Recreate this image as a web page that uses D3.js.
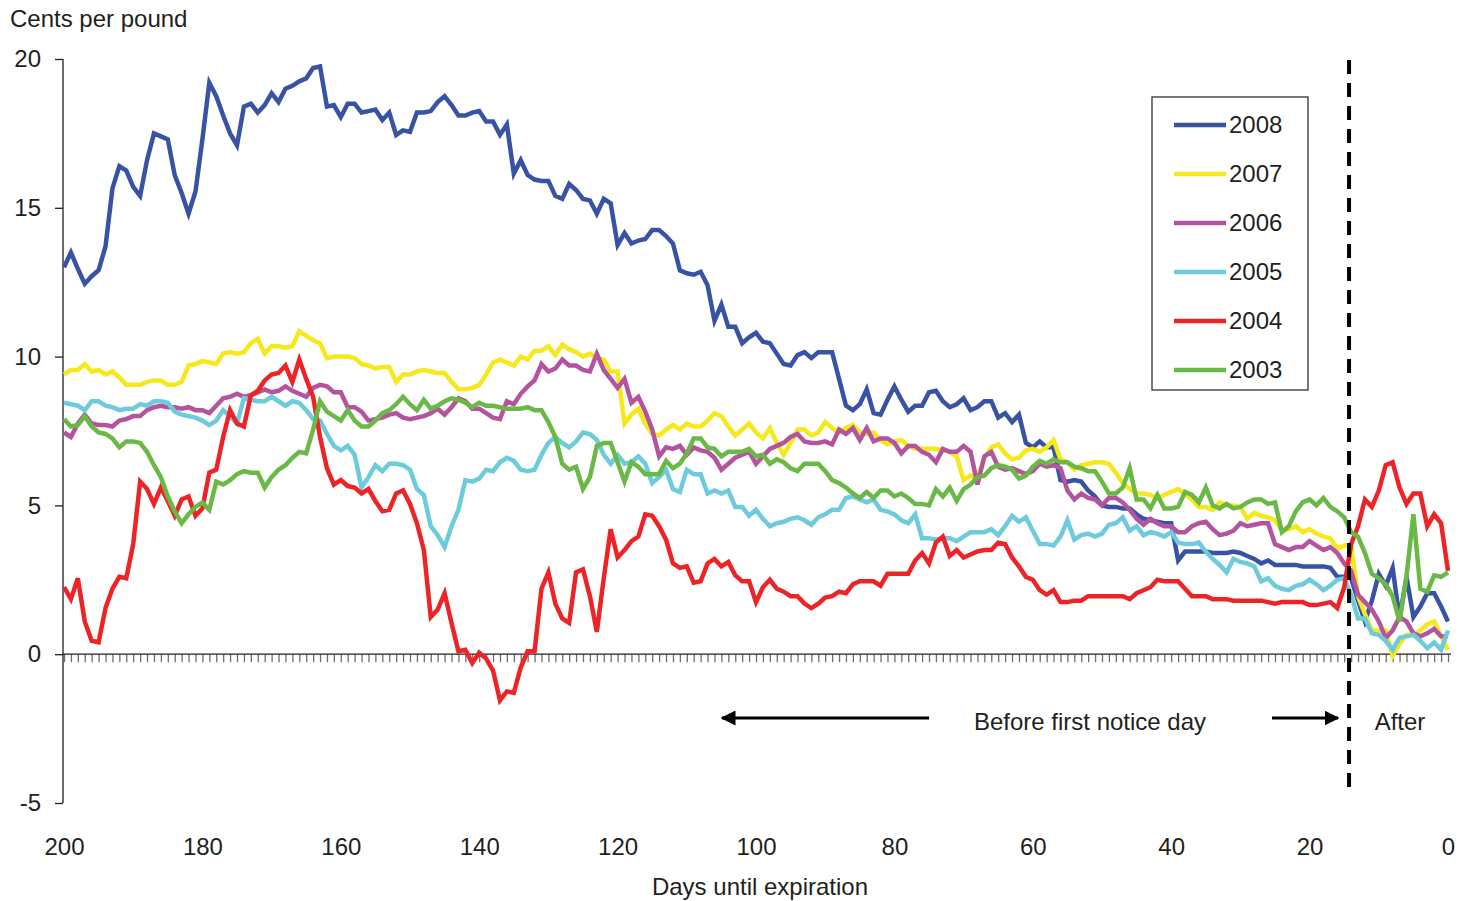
<!DOCTYPE html>
<html>
<head>
<meta charset="utf-8">
<script src="https://cdn.jsdelivr.net/npm/d3@7"></script>
<style>
	body { margin: 0; background: #fff; }
	text { font-family: "Liberation Sans", Arial, Helvetica, sans-serif; fill: #231f20; }
</style>
</head>
<body>
<div id="chart-area"></div>
<script>
/*
*    spread chart - days until expiration
*/

// days run from 200 down to 0
var days = d3.range(200, -1, -1);

var s2008 = [13.0,13.5,12.95,12.45,12.7,12.9,13.7,15.65,16.4,16.25,15.7,15.4,16.6,17.5,17.4,17.3,16.1,15.5,14.8,15.55,
	17.3,19.2,18.75,18.1,17.5,17.1,18.4,18.5,18.2,18.45,18.85,18.55,19.0,19.1,19.25,19.35,19.7,19.75,18.4,18.45,
	18.05,18.5,18.5,18.2,18.25,18.3,17.95,18.2,17.45,17.6,17.55,18.2,18.2,18.25,18.55,18.75,18.45,18.1,18.1,18.2,
	18.25,17.9,17.9,17.45,17.8,16.15,16.6,16.1,15.95,15.9,15.9,15.4,15.3,15.8,15.6,15.3,15.25,14.8,15.3,15.15,
	13.75,14.15,13.8,13.9,13.95,14.25,14.25,14.05,13.8,12.9,12.8,12.75,12.85,12.4,11.2,11.75,11.0,11.0,10.45,10.65,
	10.8,10.5,10.45,10.1,9.75,9.7,10.05,10.15,9.95,10.15,10.15,10.15,9.25,8.35,8.2,8.4,8.9,8.1,8.05,8.55,
	9.0,8.55,8.15,8.35,8.35,8.8,8.85,8.5,8.3,8.4,8.6,8.2,8.3,8.5,8.5,7.95,8.1,7.8,8.05,7.1,
	6.95,7.15,6.95,6.95,5.85,5.8,5.85,5.8,5.5,5.3,5.0,4.95,4.95,4.9,4.9,4.7,4.55,4.5,4.45,4.4,
	4.4,3.15,3.45,3.45,3.45,3.45,3.4,3.4,3.4,3.45,3.4,3.3,3.2,3.05,3.15,3.0,3.0,3.0,3.0,2.95,
	2.95,2.95,2.95,2.9,2.6,2.6,2.55,1.8,1.1,1.8,2.7,2.3,2.9,1.2,2.6,1.25,1.6,2.05,2.05,1.6,
	1.1];

var s2007 = [9.4,9.55,9.55,9.75,9.5,9.55,9.4,9.5,9.3,9.05,9.05,9.05,9.15,9.2,9.2,9.05,9.05,9.15,9.7,9.75,
	9.85,9.8,9.75,10.1,10.15,10.1,10.15,10.45,10.6,10.1,10.35,10.35,10.3,10.35,10.85,10.7,10.55,10.45,9.95,10.0,
	10.0,10.0,9.95,9.75,9.7,9.6,9.65,9.65,9.15,9.4,9.4,9.5,9.55,9.5,9.45,9.45,9.15,8.9,8.9,8.95,
	9.05,9.4,9.8,9.9,9.8,9.7,10.0,9.9,10.2,10.2,10.35,10.05,10.4,10.25,10.15,10.0,10.1,9.95,9.9,9.5,
	9.5,7.75,8.05,8.25,7.75,7.4,7.35,7.55,7.7,7.55,7.75,7.65,7.65,7.85,8.1,8.0,7.65,7.35,7.55,7.75,
	7.45,7.25,7.6,7.1,6.7,7.1,7.55,7.55,7.35,7.45,7.8,7.6,7.45,7.6,7.7,7.45,7.4,7.45,7.2,7.05,
	7.15,7.2,7.0,6.9,6.9,6.9,6.9,6.85,6.8,6.65,5.85,6.0,5.9,6.6,6.95,7.05,6.75,6.55,6.6,6.85,
	6.9,6.8,6.95,7.2,6.55,6.45,6.2,6.35,6.4,6.45,6.45,6.4,6.1,5.75,5.55,5.4,5.4,5.35,5.25,5.35,
	5.45,5.55,5.4,5.2,4.95,4.95,4.85,5.1,5.0,5.0,4.95,4.55,4.75,4.65,4.6,4.5,4.15,4.2,4.3,4.1,
	4.2,4.05,3.95,3.9,3.55,3.65,3.65,1.95,1.35,0.8,0.8,0.8,-0.05,0.35,0.65,0.65,0.8,1.0,1.1,0.6,
	0.15];

var s2006 = [7.45,7.3,7.75,8.05,7.75,7.7,7.7,7.65,7.85,7.9,8.0,8.0,8.2,8.3,8.35,8.3,8.3,8.25,8.3,8.2,
	8.2,8.1,8.35,8.6,8.65,8.75,8.65,8.7,8.8,8.9,8.8,8.85,9.0,8.85,8.75,8.65,8.95,9.05,9.0,8.8,
	8.8,8.3,8.3,8.15,7.85,7.9,7.95,8.05,8.1,7.95,7.9,7.95,8.0,8.1,8.25,8.05,8.3,8.6,8.5,8.25,
	8.25,8.1,7.95,7.9,8.5,8.4,8.75,9.0,9.2,9.75,9.5,9.6,9.9,9.7,9.7,9.55,9.5,10.1,9.55,9.25,
	8.95,9.25,8.45,8.65,8.15,7.55,6.65,6.95,6.9,7.0,6.7,6.95,6.85,6.8,6.6,6.2,6.4,6.6,6.7,6.8,
	6.4,6.65,6.9,7.0,7.1,7.3,7.4,7.15,7.1,7.1,7.15,7.05,7.55,7.4,7.6,7.2,7.6,7.15,7.25,7.25,
	7.1,6.75,7.0,7.0,6.8,6.7,6.45,6.9,6.8,6.8,7.0,6.8,5.7,6.65,6.8,6.3,6.2,6.25,6.15,6.05,
	6.15,6.4,6.3,6.35,6.25,5.5,5.2,5.4,5.25,5.2,5.0,5.25,5.25,5.1,4.85,4.55,4.35,4.55,4.4,4.3,
	4.3,4.1,4.1,4.3,4.4,4.45,4.2,4.0,4.05,4.15,4.4,4.3,4.35,4.4,4.4,3.7,3.6,3.5,3.6,3.6,
	3.8,3.65,3.5,3.6,3.4,3.05,2.8,2.0,1.75,1.5,1.1,0.55,0.8,1.25,1.1,0.7,0.6,0.7,0.85,0.6,
	0.6];

var s2005 = [8.45,8.4,8.35,8.2,8.5,8.5,8.35,8.3,8.2,8.25,8.25,8.4,8.35,8.5,8.5,8.45,8.15,8.05,8.0,7.95,
	7.85,7.7,7.85,8.2,8.0,7.75,8.6,8.55,8.5,8.5,8.65,8.5,8.35,8.5,8.45,8.2,7.9,7.85,7.4,7.0,
	6.85,7.0,6.7,5.6,5.95,6.35,6.15,6.4,6.4,6.35,6.2,5.55,5.35,4.3,4.0,3.6,4.3,4.85,5.85,5.8,
	5.9,6.2,6.15,6.45,6.6,6.5,6.2,6.15,6.2,6.7,7.1,7.3,7.1,6.95,7.15,7.45,7.4,7.2,6.7,6.4,
	6.7,6.4,6.45,6.65,6.4,5.75,5.95,6.2,5.55,5.45,6.2,6.05,6.05,5.4,5.5,5.4,5.5,4.95,4.95,4.65,
	4.85,4.55,4.3,4.4,4.45,4.55,4.6,4.5,4.35,4.6,4.7,4.85,4.85,5.25,5.3,5.2,5.1,5.2,4.85,4.8,
	4.7,4.5,4.4,4.7,3.9,3.9,3.85,3.9,3.9,3.8,3.95,4.1,4.1,4.1,4.2,4.0,4.3,4.65,4.45,4.6,
	4.15,3.7,3.7,3.65,3.95,4.5,3.85,4.0,4.05,3.95,4.05,4.35,4.4,4.6,4.15,4.3,4.0,4.1,4.05,3.95,
	4.1,3.75,3.7,3.7,3.75,3.45,3.2,3.0,2.75,3.2,3.1,3.05,2.95,2.45,2.55,2.3,2.2,2.15,2.3,2.35,
	2.5,2.35,2.15,2.3,2.5,2.55,2.0,1.2,1.2,0.7,0.65,0.45,0.15,0.55,0.6,0.65,0.45,0.2,0.4,0.15,
	0.8];

var s2004 = [2.25,1.85,2.55,1.1,0.45,0.4,1.55,2.2,2.6,2.55,3.7,5.8,5.55,5.05,5.6,5.15,4.65,5.2,5.3,4.65,
	4.9,6.1,6.2,7.3,8.2,7.75,7.65,8.7,8.85,9.2,9.4,9.45,9.7,9.15,9.9,9.25,8.65,7.3,6.25,5.7,
	5.85,5.65,5.6,5.4,5.55,5.15,4.8,4.85,5.4,5.5,5.05,4.4,3.5,1.25,1.5,2.05,1.05,0.1,0.15,-0.3,
	0.05,-0.15,-0.55,-1.55,-1.25,-1.3,-0.45,0.1,0.1,2.2,2.75,1.7,1.2,1.05,2.75,2.85,1.95,0.75,2.55,4.2,
	3.25,3.5,3.8,3.95,4.7,4.65,4.3,3.85,3.05,2.9,2.95,2.4,2.45,3.05,3.2,2.95,3.1,2.65,2.45,2.45,
	1.75,2.25,2.5,2.2,2.1,1.95,1.95,1.7,1.55,1.7,1.9,1.95,2.1,2.05,2.35,2.45,2.45,2.45,2.3,2.7,
	2.7,2.7,2.7,3.15,3.4,3.05,3.75,3.95,3.3,3.5,3.25,3.35,3.45,3.5,3.5,3.75,3.7,3.25,2.95,2.6,
	2.5,2.15,2.0,2.15,1.75,1.75,1.8,1.8,1.95,1.95,1.95,1.95,1.95,1.95,1.85,2.05,2.15,2.25,2.5,2.45,
	2.45,2.45,2.2,1.95,1.95,1.95,1.85,1.85,1.85,1.8,1.8,1.8,1.8,1.8,1.75,1.7,1.75,1.75,1.75,1.75,
	1.65,1.65,1.7,1.75,1.55,2.25,3.7,4.3,5.2,4.95,5.5,6.35,6.45,5.6,5.05,5.4,5.4,4.3,4.7,4.4,
	2.8];

var s2003 = [7.9,7.65,7.7,8.0,7.65,7.45,7.4,7.25,6.95,7.15,7.15,7.1,6.8,6.35,5.95,5.3,4.8,4.4,4.7,4.95,
	5.1,4.85,5.8,5.7,5.85,6.05,6.15,6.1,6.1,5.6,5.95,6.2,6.35,6.6,6.8,6.75,7.55,8.5,8.15,8.0,
	7.85,8.2,7.85,7.65,7.65,7.85,8.1,8.2,8.4,8.65,8.4,8.2,8.55,8.25,8.35,8.5,8.6,8.55,8.45,8.3,
	8.45,8.35,8.35,8.3,8.25,8.25,8.25,8.3,8.2,8.2,7.8,7.3,6.4,6.2,6.3,5.55,5.95,7.0,7.1,7.1,
	6.45,5.8,6.45,6.3,6.05,6.05,6.05,6.5,6.25,6.4,6.75,7.25,7.25,6.95,6.9,6.65,6.8,6.8,6.8,6.9,
	6.65,6.7,6.4,6.55,6.45,6.25,6.15,6.4,6.4,6.4,6.15,5.85,5.75,5.6,5.4,5.25,5.45,5.25,5.5,5.5,
	5.3,5.4,5.25,5.05,5.05,5.0,5.55,5.3,5.6,5.15,5.55,5.7,5.95,6.0,6.25,6.35,6.3,6.2,5.9,6.0,
	6.3,6.5,6.4,6.55,6.45,6.45,6.3,6.25,6.15,6.15,5.8,5.4,5.4,5.6,6.25,5.2,5.2,4.9,5.35,4.9,
	4.9,4.95,5.45,5.35,5.1,5.6,5.0,4.9,5.05,4.9,4.95,5.1,5.2,5.2,5.05,5.1,4.1,4.3,4.8,5.1,
	5.2,5.0,5.25,4.95,4.8,4.6,4.1,3.95,3.4,2.7,2.55,2.35,1.95,1.1,2.6,4.7,2.2,2.1,2.65,2.6,
	2.75];

var years = ["2008", "2007", "2006", "2005", "2004", "2003"];
var seriesValues = [s2008, s2007, s2006, s2005, s2004, s2003];
var yearColors = ["#3953a4", "#f6e81a", "#b4549f", "#6dcbdc", "#ed2427", "#6ab946"];

var xTicks = [200, 180, 160, 140, 120, 100, 80, 60, 40, 20, 0];
var yTicks = [20, 15, 10, 5, 0, -5];
var firstNoticeDay = 14.3;

var svgWidth = 1467, svgHeight = 901;
var fontSize = "24px";

var svg = d3.select("#chart-area")
	.append("svg")
		.attr("width", svgWidth)
		.attr("height", svgHeight);

//Scales
var xScale = d3.scaleLinear()
		.domain([200, 0])
		.range([64, 1448]);

var yScale = d3.scaleLinear()
		.domain([-5, 20])
		.range([803, 59]);

//y axis
var yAxisCall = d3.axisLeft(yScale)
		.tickValues(yTicks)
		.tickSize(8)
		.tickPadding(14)
		.tickFormat(function(d){ return d < 0 ? "-" + Math.abs(d) : d; });

var yAxis = svg.append("g")
	.attr("transform", "translate(63,0)")
	.call(yAxisCall);
yAxis.select(".domain").remove();
yAxis.selectAll("line").attr("stroke", "#231f20").attr("stroke-width", 1.3);
yAxis.selectAll("text")
	.attr("font-size", fontSize)
	.attr("font-family", "Liberation Sans, Arial, sans-serif")
	.attr("fill", "#231f20");

svg.append("line")
	.attr("x1", 63).attr("x2", 63)
	.attr("y1", yScale(20)).attr("y2", yScale(-5))
	.attr("stroke", "#231f20")
	.attr("stroke-width", 1.3);

//x axis at zero with one tick per day
var dayAxisCall = d3.axisBottom(xScale)
		.tickValues(days)
		.tickSize(8)
		.tickFormat("");

var dayAxis = svg.append("g")
	.attr("transform", "translate(0," + yScale(0) + ")")
	.call(dayAxisCall);
dayAxis.select(".domain").remove();
dayAxis.selectAll("line").attr("stroke", "#6d6e71").attr("stroke-width", 1.3);

svg.append("line")
	.attr("x1", 63).attr("x2", xScale(0) + 3)
	.attr("y1", yScale(0)).attr("y2", yScale(0))
	.attr("stroke", "#231f20")
	.attr("stroke-width", 1.3);

//day labels along the bottom
var xLabelAxis = d3.axisBottom(xScale)
		.tickValues(xTicks)
		.tickSize(0)
		.tickPadding(35)
		.tickFormat(d3.format("d"));

var xLabels = svg.append("g")
	.attr("transform", "translate(0," + yScale(-5) + ")")
	.call(xLabelAxis);
xLabels.select(".domain").remove();
xLabels.selectAll("text")
	.attr("font-size", fontSize)
	.attr("font-family", "Liberation Sans, Arial, sans-serif")
	.attr("fill", "#231f20");

//Labels
svg.append("text")
	.attr("x", 10)
	.attr("y", 27)
	.attr("font-size", fontSize)
	.text("Cents per pound");

svg.append("text")
	.attr("x", 760)
	.attr("y", 895)
	.attr("font-size", fontSize)
	.attr("text-anchor", "middle")
	.text("Days until expiration");

//lines
var line = d3.line()
	.x(function(d){ return xScale(d.day); })
	.y(function(d){ return yScale(d.value); });

years.forEach(function(year, i){
	var pts = days.map(function(day, j){
		return {day: day, value: seriesValues[i][j]};
	});
	svg.append("path")
		.datum(pts)
		.attr("fill", "none")
		.attr("stroke", yearColors[i])
		.attr("stroke-width", 4.5)
		.attr("stroke-linejoin", "miter")
		.attr("d", line);
});

//first notice day marker
svg.append("line")
	.attr("x1", xScale(firstNoticeDay)).attr("x2", xScale(firstNoticeDay))
	.attr("y1", 60).attr("y2", 793)
	.attr("stroke", "#000")
	.attr("stroke-width", 4)
	.attr("stroke-dasharray", "14,9");

//arrows
svg.append("defs").append("marker")
	.attr("id", "head")
	.attr("viewBox", "0 0 10 10")
	.attr("refX", 9).attr("refY", 5)
	.attr("markerWidth", 5).attr("markerHeight", 5)
	.attr("orient", "auto")
	.append("path")
		.attr("d", "M0,0 L10,5 L0,10 Z")
		.attr("fill", "#000");

svg.append("line")
	.attr("x1", 929).attr("x2", 722)
	.attr("y1", 718).attr("y2", 718)
	.attr("stroke", "#000").attr("stroke-width", 3)
	.attr("marker-end", "url(#head)");

svg.append("line")
	.attr("x1", 1272).attr("x2", 1338)
	.attr("y1", 718).attr("y2", 718)
	.attr("stroke", "#000").attr("stroke-width", 3)
	.attr("marker-end", "url(#head)");

svg.append("text")
	.attr("x", 1090).attr("y", 730)
	.attr("font-size", fontSize)
	.attr("text-anchor", "middle")
	.text("Before first notice day");

svg.append("text")
	.attr("x", 1400).attr("y", 730)
	.attr("font-size", fontSize)
	.attr("text-anchor", "middle")
	.text("After");

//legend section
var legend = svg.append("g")
	.attr("transform", "translate(1152,97)");

legend.append("rect")
	.attr("width", 156)
	.attr("height", 293)
	.attr("fill", "#fff")
	.attr("stroke", "#231f20")
	.attr("stroke-width", 1.2);

years.forEach(function(year, i){
	var legendRow = legend.append("g")
		.attr("transform", "translate(0," + (28 + i*49) + ")");

	legendRow.append("line")
		.attr("x1", 22).attr("x2", 74)
		.attr("stroke", yearColors[i])
		.attr("stroke-width", 4.5);

	legendRow.append("text")
		.attr("x", 77)
		.attr("y", 8)
		.attr("font-size", fontSize)
		.text(year);
}); //forEach
</script>
</body>
</html>
